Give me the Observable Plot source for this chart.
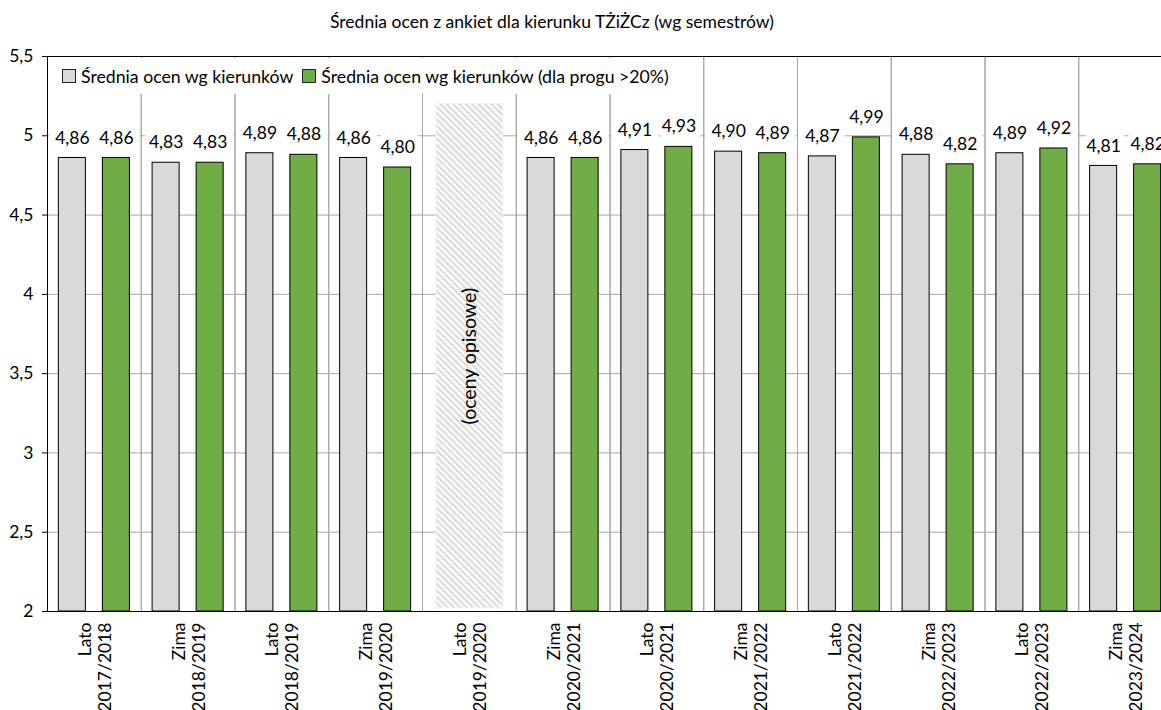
<!DOCTYPE html>
<html><head><meta charset="utf-8">
<script src="https://cdn.jsdelivr.net/npm/d3@7"></script>
<script src="https://cdn.jsdelivr.net/npm/@observablehq/plot@0.6"></script>
<style>
html,body{margin:0;padding:0;overflow:hidden;background:#fff;}
body{width:1161px;height:710px;position:relative;font-family:Lato, sans-serif;color:#000;}
#title{position:absolute;left:0;width:1104px;top:11px;text-align:center;font-size:17.5px;}
#chart{position:absolute;left:0;top:40px;width:1172px;}
#chart svg{max-width:none !important;width:1172px;height:670px;}
#legend{position:absolute;left:52px;top:58px;height:36px;width:640px;background:#fff;display:flex;align-items:center;font-size:17.7px;white-space:nowrap;}
.sw{display:inline-block;width:12px;height:12px;border:1px solid #222;margin:0 5px 0 9px;}
.sw.first{margin-left:10px;}
</style></head><body>
<div id="title">Średnia ocen z ankiet dla kierunku TŻiŻCz (wg semestrów)</div>
<div id="chart"></div>
<div id="legend"></div>
<script>
const categories = ["Lato 2017/2018","Zima 2018/2019","Lato 2018/2019","Zima 2019/2020","Lato 2019/2020","Zima 2020/2021","Lato 2020/2021","Zima 2021/2022","Lato 2021/2022","Zima 2022/2023","Lato 2022/2023","Zima 2023/2024"];
const seriesNames = ["Średnia ocen wg kierunków","Średnia ocen wg kierunków (dla progu >20%)"];
const allValues = [4.86,4.83,4.89,4.86,null,4.86,4.91,4.90,4.87,4.88,4.89,4.81];
const thresholdValues = [4.86,4.83,4.88,4.80,null,4.86,4.93,4.89,4.99,4.82,4.92,4.82];
const seriesColors = ["#d9d9d9","#70ad47"];
const yTicks = [2,2.5,3,3.5,4,4.5,5,5.5];
const noteCategory = ["Lato 2019/2020"];
const noteText = ["(oceny opisowe)"];
const noteFrom = [2.02];
const noteTo = [5.2];

const rows = [];
categories.forEach((c,i)=>{
  rows.push({cat:c, series:seriesNames[0], value:allValues[i]});
  rows.push({cat:c, series:seriesNames[1], value:thresholdValues[i]});
});
const bars = rows.filter(d=>d.value!=null);
const fmt = v => d3.format(".2f")(v).replace(".", ",");
const note = noteCategory.map((c,i)=>({cat:c, text:noteText[i], y1:noteFrom[i], y2:noteTo[i]}));

const chart = Plot.plot({
  width:1172, height:670, marginLeft:47, marginRight:0, marginTop:16, marginBottom:99,
  style:{fontFamily:"Lato, sans-serif", fontSize:"17.5px", color:"#000", background:"transparent", overflow:"visible"},
  fx:{domain:categories, padding:0, round:false, label:null},
  x:{domain:seriesNames, paddingInner:0.386, paddingOuter:0.258, round:false, axis:null},
  y:{domain:[2,5.5], label:null},
  color:{domain:seriesNames, range:seriesColors},
  marks:[
    Plot.gridY(yTicks, {stroke:"#a6a6a6", strokeOpacity:1}),
    Plot.text(bars, {fx:"cat", x:"series", y:"value", text:d=>fmt(d.value), dy:-20, stroke:"white", strokeWidth:15, fill:"black", fontSize:17.5}),
    Plot.frame({stroke:"#a6a6a6"}),
    Plot.barY(bars, {fx:"cat", x:"series", y1:2, y2:"value", fill:"series", stroke:"black", strokeWidth:1}),
    Plot.barY(note, {fx:"cat", y1:"y1", y2:"y2", insetLeft:14, insetRight:13, fill:"url(#hatch)", stroke:"#f2f2f2"}),
    Plot.text(note, {fx:"cat", y:d=>(d.y1+d.y2)/2, text:"text", rotate:-90, fontSize:19.5, fill:"black"}),
    Plot.ruleY([2,5.5], {stroke:"black"}),
    Plot.frame({anchor:"left", stroke:"black", facetAnchor:"left"}),
    Plot.axisY(yTicks, {tickSize:5, tickPadding:9, tickFormat:d=>String(d).replace(".", ","), label:null, fontSize:17.5}),
    Plot.axisFx({anchor:"bottom", tickRotate:-90, tickSize:0, tickPadding:11, tickFormat:d=>d.replace(" ", "\n"), label:null, fontSize:17.5, lineHeight:1.15})
  ]
});
const svgEl = chart.tagName.toLowerCase()==="svg" ? chart : chart.querySelector("svg");
const defs = d3.select(svgEl).insert("defs", ":first-child");
const pat = defs.append("pattern").attr("id","hatch").attr("patternUnits","userSpaceOnUse")
  .attr("width",4.5).attr("height",4.5).attr("patternTransform","rotate(-45)");
pat.append("rect").attr("width",4.5).attr("height",4.5).attr("fill","#fbfbfb");
pat.append("rect").attr("width",2).attr("height",4.5).attr("fill","#dadada");
document.getElementById("chart").appendChild(chart);

const legend = document.getElementById("legend");
seriesNames.forEach((n,i)=>{
  const sw = document.createElement("span");
  sw.className = "sw" + (i===0 ? " first" : "");
  sw.style.background = seriesColors[i];
  legend.appendChild(sw);
  const t = document.createElement("span");
  t.textContent = n;
  legend.appendChild(t);
});
</script>
</body></html>
